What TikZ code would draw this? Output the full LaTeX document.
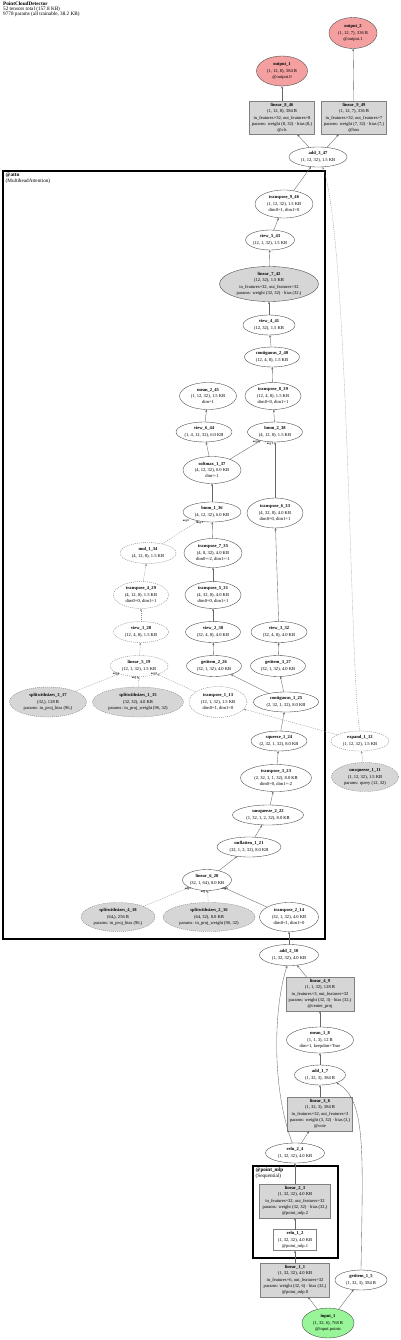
\documentclass[tikz,border=0pt]{standalone}
\usepackage{fontspec}
\setmainfont{Liberation Serif}
\usetikzlibrary{shapes.geometric,arrows.meta}
\definecolor{outred}{HTML}{F4A0A0}
\definecolor{ingreen}{HTML}{98F598}
\definecolor{pgray}{HTML}{D6D6D6}
\tikzset{
 base/.style={inner sep=0pt, outer sep=0pt, line width=0.35pt, draw=black!75},
 ell/.style={base, ellipse},
 rct/.style={base, rectangle, draw=black!50},
 dsh/.style={dash pattern=on 1pt off 1pt, draw=black!55},
 lab/.style={font=\fontsize{4.55}{6.3}\selectfont, align=center, inner sep=0pt},
 edge/.style={draw=black!60, line width=0.35pt, -{Stealth[length=2.6pt,width=2pt]}},
 dedge/.style={edge, dash pattern=on 1pt off 1pt, draw=black!45},
 elab/.style={font=\fontsize{2.8}{3}\selectfont\bfseries, inner sep=0.2pt},
 cluster/.style={draw=black, line width=1.4pt},
 clab/.style={font=\fontsize{5.2}{6}\selectfont, align=left, inner sep=0pt, anchor=north west},
}
\newcommand{\gn}[7]{\node[#6, minimum width=#4pt, minimum height=#5pt, label={[lab]center:{#7}}] (#1) at (#2,#3) {};}
\begin{document}
\begin{tikzpicture}[x=1pt,y=-1pt]
\fill[white] (0,0) rectangle (400,1340);
\useasboundingbox (0,0) rectangle (400,1340);
% header
\node[anchor=north west, align=left, font=\fontsize{5.2}{5.2}\selectfont, inner sep=0pt] (hdr) at (3,1.5)
 {\textbf{PointCloudDetector}\\52 tensors total (157.8 KB)\\9778 params (all trainable, 38.2 KB)};
% clusters
\draw[cluster] (3,171) rectangle (325,939);
\node[clab] (attnlab) at (5.5,172.5) {\textbf{@attn}\\(MultiheadAttention)};
\draw[cluster] (253,1166) rectangle (338,1258);
\node[clab] (mlplab) at (255.5,1167.5) {\textbf{@point\_mlp}\\(Sequential)};
% nodes
\gn{output_2}{353}{33}{48}{31}{ell,fill=outred}{\textbf{output\_2}\\(1, 12, 7), 336 B\\@output.1}
\gn{output_1}{282}{71}{51}{30}{ell,fill=outred}{\textbf{output\_1}\\(1, 12, 8), 384 B\\@output.0}
\gn{linear_8_46}{282}{118}{65}{33}{rct,fill=pgray}{\textbf{linear\_8\_46}\\(1, 12, 8), 384 B\\in\_features=32, out\_features=8\\params: weight (8, 32) · bias (8,)\\@cls}
\gn{linear_9_49}{354}{118}{65}{33}{rct,fill=pgray}{\textbf{linear\_9\_49}\\(1, 12, 7), 336 B\\in\_features=32, out\_features=7\\params: weight (7, 32) · bias (7,)\\@box}
\gn{add_3_47}{318}{157}{58}{20}{ell}{\textbf{add\_3\_47}\\(1, 12, 32), 1.5 KB}
\gn{transpose_9_46}{284}{204}{58}{28}{ell}{\textbf{transpose\_9\_46}\\(1, 12, 32), 1.5 KB\\dim0=1, dim1=0}
\gn{view_5_43}{270}{240}{49}{20}{ell}{\textbf{view\_5\_43}\\(12, 1, 32), 1.5 KB}
\gn{linear_7_42}{269}{284}{99}{35}{ell,fill=pgray}{\textbf{linear\_7\_42}\\(12, 32), 1.5 KB\\in\_features=32, out\_features=32\\params: weight (32, 32) · bias (32,)}
\gn{view_4_41}{269}{325}{52}{20}{ell}{\textbf{view\_4\_41}\\(12, 32), 1.5 KB}
\gn{contiguous_2_40}{272}{357}{55}{20}{ell}{\textbf{contiguous\_2\_40}\\(12, 4, 8), 1.5 KB}
\gn{mean_2_45}{208}{396}{57}{27}{ell}{\textbf{mean\_2\_45}\\(1, 12, 32), 1.5 KB\\dim=1}
\gn{transpose_8_39}{273}{396}{56}{27}{ell}{\textbf{transpose\_8\_39}\\(12, 4, 8), 1.5 KB\\dim0=0, dim1=1}
\gn{view_6_44}{204}{432}{56}{20}{ell}{\textbf{view\_6\_44}\\(1, 4, 12, 32), 6.0 KB}
\gn{bmm_2_38}{275}{432}{55}{20}{ell}{\textbf{bmm\_2\_38}\\(4, 12, 8), 1.5 KB}
\gn{softmax_1_37}{212}{470}{58}{27}{ell}{\textbf{softmax\_1\_37}\\(4, 12, 32), 6.0 KB\\dim=-1}
\gn{bmm_1_36}{212}{512}{58}{20}{ell}{\textbf{bmm\_1\_36}\\(4, 12, 32), 6.0 KB}
\gn{transpose_6_33}{275}{513}{56}{30}{ell}{\textbf{transpose\_6\_33}\\(4, 32, 8), 4.0 KB\\dim0=0, dim1=1}
\gn{mul_1_34}{148}{553}{56}{21}{ell,dsh}{\textbf{mul\_1\_34}\\(4, 12, 8), 1.5 KB}
\gn{transpose_7_35}{213}{553}{58}{29}{ell}{\textbf{transpose\_7\_35}\\(4, 8, 32), 4.0 KB\\dim0=-2, dim1=-1}
\gn{transpose_4_29}{141}{595}{55}{27}{ell,dsh}{\textbf{transpose\_4\_29}\\(4, 12, 8), 1.5 KB\\dim0=0, dim1=1}
\gn{transpose_5_31}{213}{595}{56}{27}{ell}{\textbf{transpose\_5\_31}\\(4, 32, 8), 4.0 KB\\dim0=0, dim1=1}
\gn{view_1_28}{141}{632}{55}{21}{ell,dsh}{\textbf{view\_1\_28}\\(12, 4, 8), 1.5 KB}
\gn{view_2_30}{213}{632}{55}{21}{ell}{\textbf{view\_2\_30}\\(32, 4, 8), 4.0 KB}
\gn{view_3_32}{279}{632}{56}{21}{ell}{\textbf{view\_3\_32}\\(32, 4, 8), 4.0 KB}
\gn{linear_5_19}{139}{666}{58}{21}{ell,dsh}{\textbf{linear\_5\_19}\\(12, 1, 32), 1.5 KB}
\gn{getitem_2_26}{214}{666}{55}{21}{ell}{\textbf{getitem\_2\_26}\\(32, 1, 32), 4.0 KB}
\gn{getitem_3_27}{278}{666}{55}{21}{ell}{\textbf{getitem\_3\_27}\\(32, 1, 32), 4.0 KB}
\gn{splitwithsizes_3_17}{48}{702}{77}{30}{ell,dsh,fill=pgray}{\textbf{splitwithsizes\_3\_17}\\(32,), 128 B\\params: in\_proj\_bias (96,)}
\gn{splitwithsizes_1_15}{138}{702}{91}{30}{ell,dsh,fill=pgray}{\textbf{splitwithsizes\_1\_15}\\(32, 32), 4.0 KB\\params: in\_proj\_weight (96, 32)}
\gn{transpose_1_13}{218}{702}{58}{31}{ell,dsh}{\textbf{transpose\_1\_13}\\(12, 1, 32), 1.5 KB\\dim0=1, dim1=0}
\gn{contiguous_1_25}{286}{702}{65}{20}{ell}{\textbf{contiguous\_1\_25}\\(2, 32, 1, 32), 8.0 KB}
\gn{expand_1_12}{360}{741}{58}{20}{ell,dsh}{\textbf{expand\_1\_12}\\(1, 12, 32), 1.5 KB}
\gn{squeeze_1_24}{279}{741}{56}{20}{ell}{\textbf{squeeze\_1\_24}\\(2, 32, 1, 32), 8.0 KB}
\gn{unsqueeze_1_11}{365}{777}{67}{29}{ell,dsh,fill=pgray}{\textbf{unsqueeze\_1\_11}\\(1, 12, 32), 1.5 KB\\params: query (12, 32)}
\gn{transpose_3_23}{276}{778}{71}{27}{ell}{\textbf{transpose\_3\_23}\\(2, 32, 1, 1, 32), 8.0 KB\\dim0=0, dim1=-2}
\gn{unsqueeze_2_22}{268}{815}{71}{20}{ell}{\textbf{unsqueeze\_2\_22}\\(1, 32, 1, 2, 32), 8.0 KB}
\gn{unflatten_1_21}{249}{847}{64}{20}{ell}{\textbf{unflatten\_1\_21}\\(32, 1, 2, 32), 8.0 KB}
\gn{linear_6_20}{207}{880}{49}{21}{ell}{\textbf{linear\_6\_20}\\(32, 1, 64), 8.0 KB}
\gn{splitwithsizes_4_18}{118}{917}{74}{29}{ell,dsh,fill=pgray}{\textbf{splitwithsizes\_4\_18}\\(64,), 256 B\\params: in\_proj\_bias (96,)}
\gn{splitwithsizes_2_16}{209}{917}{92}{29}{ell,dsh,fill=pgray}{\textbf{splitwithsizes\_2\_16}\\(64, 32), 8.0 KB\\params: in\_proj\_weight (96, 32)}
\gn{transpose_2_14}{289}{917}{59}{29}{ell}{\textbf{transpose\_2\_14}\\(32, 1, 32), 4.0 KB\\dim0=1, dim1=0}
\gn{add_2_10}{289}{955}{59}{21}{ell}{\textbf{add\_2\_10}\\(1, 32, 32), 4.0 KB}
\gn{linear_4_9}{320}{994}{68}{34}{rct,fill=pgray}{\textbf{linear\_4\_9}\\(1, 1, 32), 128 B\\in\_features=3, out\_features=32\\params: weight (32, 3) · bias (32,)\\@center\_proj}
\gn{mean_1_8}{320}{1040}{67}{26}{ell}{\textbf{mean\_1\_8}\\(1, 1, 3), 12 B\\dim=1, keepdim=True}
\gn{add_1_7}{320}{1075}{51}{20}{ell}{\textbf{add\_1\_7}\\(1, 32, 3), 384 B}
\gn{linear_3_6}{320}{1114}{65}{34}{rct,fill=pgray}{\textbf{linear\_3\_6}\\(1, 32, 3), 384 B\\in\_features=32, out\_features=3\\params: weight (3, 32) · bias (3,)\\@vote}
\gn{relu_2_4}{295}{1153}{59}{20}{ell}{\textbf{relu\_2\_4}\\(1, 32, 32), 4.0 KB}
\gn{linear_2_3}{295}{1201}{71}{34}{rct,fill=pgray}{\textbf{linear\_2\_3}\\(1, 32, 32), 4.0 KB\\in\_features=32, out\_features=32\\params: weight (32, 32) · bias (32,)\\@point\_mlp.2}
\gn{relu_1_2}{295}{1240}{43}{21}{rct,fill=white}{\textbf{relu\_1\_2}\\(1, 32, 32), 4.0 KB\\@point\_mlp.1}
\gn{linear_1_1}{295}{1280}{69}{34}{rct,fill=pgray}{\textbf{linear\_1\_1}\\(1, 32, 32), 4.0 KB\\in\_features=6, out\_features=32\\params: weight (32, 6) · bias (32,)\\@point\_mlp.0}
\gn{getitem_1_5}{361}{1280}{52}{20}{ell,fill=white}{\textbf{getitem\_1\_5}\\(1, 32, 3), 384 B}
\gn{input_1}{328}{1323}{52}{30}{ell,fill=ingreen}{\textbf{input\_1}\\(1, 32, 6), 768 B\\@input.points}
% edges
\draw[edge] (input_1) -- (linear_1_1);
\draw[edge] (input_1) -- (getitem_1_5);
\draw[edge] (linear_1_1) -- (relu_1_2);
\draw[edge] (relu_1_2) -- (linear_2_3);
\draw[edge] (linear_2_3) -- (relu_2_4);
\draw[edge] (relu_2_4) -- (linear_3_6);
\draw[edge] (relu_2_4.105) .. controls (272,1090) and (273,1010) .. (add_2_10.-100);
\draw[edge] (linear_3_6) -- (add_1_7);
\draw[edge] (getitem_1_5.north) .. controls (363,1150) and (366,1100) .. (add_1_7.-25);
\draw[edge] (add_1_7) -- (mean_1_8);
\draw[edge] (mean_1_8) -- (linear_4_9);
\draw[edge] (linear_4_9) -- (add_2_10);
\draw[edge] (add_2_10) -- (transpose_2_14);
\draw[edge] (transpose_2_14) -- (linear_6_20);
\draw[dedge] (splitwithsizes_4_18) -- (linear_6_20);
\draw[dedge] (splitwithsizes_2_16) -- (linear_6_20);
\draw[edge] (linear_6_20) -- (unflatten_1_21);
\draw[edge] (unflatten_1_21) -- (unsqueeze_2_22);
\draw[edge] (unsqueeze_2_22) -- (transpose_3_23);
\draw[edge] (transpose_3_23) -- (squeeze_1_24);
\draw[edge] (squeeze_1_24) -- (contiguous_1_25);
\draw[edge] (contiguous_1_25) -- (getitem_2_26);
\draw[edge] (contiguous_1_25) -- (getitem_3_27);
\draw[edge] (getitem_2_26) -- (view_2_30);
\draw[edge] (getitem_3_27) -- (view_3_32);
\draw[edge] (view_2_30) -- (transpose_5_31);
\draw[edge] (view_3_32) -- (transpose_6_33);
\draw[edge] (transpose_5_31) -- (transpose_7_35);
\draw[edge] (transpose_7_35) -- (bmm_1_36);
\draw[dedge] (mul_1_34) -- (bmm_1_36);
\draw[edge] (bmm_1_36) -- (softmax_1_37);
\draw[edge] (softmax_1_37) -- (bmm_2_38);
\draw[edge] (transpose_6_33) -- (bmm_2_38);
\draw[edge] (softmax_1_37) -- (view_6_44);
\draw[edge] (view_6_44) -- (mean_2_45);
\draw[edge] (bmm_2_38) -- (transpose_8_39);
\draw[edge] (transpose_8_39) -- (contiguous_2_40);
\draw[edge] (contiguous_2_40) -- (view_4_41);
\draw[edge] (view_4_41) -- (linear_7_42);
\draw[edge] (linear_7_42) -- (view_5_43);
\draw[edge] (view_5_43) -- (transpose_9_46);
\draw[edge] (transpose_9_46) -- (add_3_47);
\draw[dedge] (expand_1_12.north) .. controls (350,690) and (349,240) .. (add_3_47.-65);
\draw[edge] (add_3_47) -- (linear_8_46);
\draw[edge] (add_3_47) -- (linear_9_49);
\draw[edge] (linear_8_46) -- (output_1);
\draw[edge] (linear_9_49) -- (output_2);
\draw[dedge] (unsqueeze_1_11) -- (expand_1_12);
\draw[dedge] (expand_1_12) -- (transpose_1_13);
\draw[dedge] (transpose_1_13) -- (linear_5_19);
\draw[dedge] (splitwithsizes_3_17) -- (linear_5_19);
\draw[dedge] (splitwithsizes_1_15) -- (linear_5_19);
\draw[dedge] (linear_5_19) -- (view_1_28);
\draw[dedge] (view_1_28) -- (transpose_4_29);
\draw[dedge] (transpose_4_29) -- (mul_1_34);
% edge labels
\node[elab] (l6a) at (188,889) {arg 2};
\node[elab] (l6b) at (204,892) {arg 1};
\node[elab] (l6c) at (225,889) {arg 0};
\node[elab] (l5a) at (116,674) {arg 2};
\node[elab] (l5b) at (135,678) {arg 1};
\node[elab] (l5c) at (154,674) {arg 0};
\node[elab] (b1a) at (186,521) {arg 0};
\node[elab] (b1b) at (200,523) {arg 1};
\node[elab] (b2a) at (256,442) {arg 0};
\node[elab] (b2b) at (270,444) {arg 1};
\end{tikzpicture}
\end{document}
